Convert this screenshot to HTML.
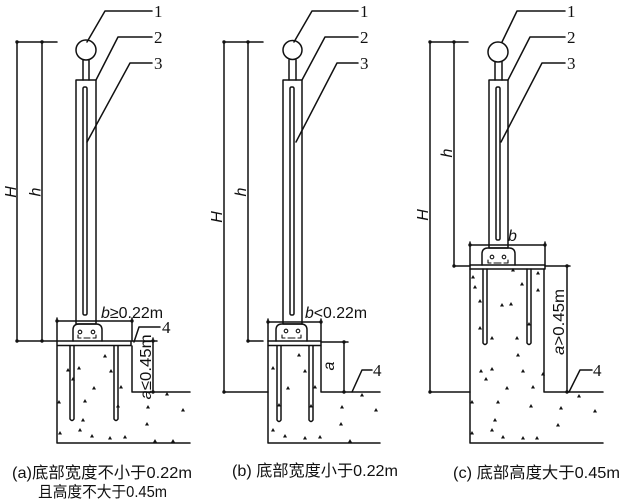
<!DOCTYPE html>
<html><head><meta charset="utf-8"><style>
html,body{margin:0;padding:0;background:#fff;}
svg{display:block;}
text{font-family:"Liberation Sans","Noto Sans CJK SC",sans-serif;fill:#111;}
.it{font-style:italic;}
.num{font-family:"Liberation Serif","Noto Serif CJK SC",serif;}
</style></head><body>
<svg width="624" height="501" viewBox="0 0 624 501" xmlns="http://www.w3.org/2000/svg">
<defs>
<g id="spk"><path d="M0,-2 L2,1.5 L-2,1.5 Z" fill="#111"/></g>
</defs>
<g fill="none" stroke="#111" stroke-width="1.5" stroke-linecap="round" stroke-linejoin="round">

<!-- ============ (a) ============ -->
<circle cx="86" cy="50" r="10"/>
<path d="M83,60 V80 M89,60 V80"/>
<rect x="76" y="80" width="20" height="244"/>
<rect x="83" y="87" width="4" height="228" rx="1.5"/>
<path d="M73,341 V330 Q73,324 79,324 H96 Q102,324 102,330 V341"/>
<circle cx="80" cy="332" r="1.8" stroke-width="1.1"/>
<circle cx="93" cy="332" r="1.8" stroke-width="1.1"/>
<path d="M78,335 V338 H81 M84,338 H90 M93,338 H96 V335" stroke-width="1.1"/>
<rect x="57" y="341" width="74" height="4.5"/>
<path d="M70,346 V419 Q72,422 74,419 V346 M114,346 V419 Q116,422 118,419 V346"/>
<path d="M57,346 V443 H190 M132,346 V392 H190"/>
<path d="M17,42 V341 M42,42 V341 M17,42 H57 M17,341 H57"/>
<path d="M57,318 V341 M132,318 V341 M57,321 H132"/>
<path d="M132,341 H157 M153,338 V392"/>
<path d="M87,42 L105,11 H152 M96,80 L118,37 H152 M87,142 L130,63 H152 M134,342 L139,327 H160"/>

<!-- ============ (b) ============ -->
<circle cx="292.5" cy="50" r="9.5"/>
<path d="M289,60 V80 M296,60 V80"/>
<rect x="283" y="80" width="19" height="244"/>
<rect x="290" y="87" width="4" height="228" rx="1.5"/>
<path d="M276,341 V330 Q276,324 282,324 H301 Q307,324 307,330 V341"/>
<circle cx="286" cy="331" r="1.8" stroke-width="1.1"/>
<circle cx="298" cy="331" r="1.8" stroke-width="1.1"/>
<path d="M282,335 V338 H285 M288,338 H295 M298,338 H301 V335" stroke-width="1.1"/>
<rect x="268" y="341" width="53" height="4.5"/>
<path d="M277,346 V420 Q279,423 281,420 V346 M309,346 V420 Q311,423 313,420 V346"/>
<path d="M268,346 V443 H380 M321,346 V392 H380"/>
<path d="M224,42 V392 M248,42 V341 M224,42 H263 M248,341 H263 M224,392 H268"/>
<path d="M268,319 V341 M321,319 V341 M268,322 H321"/>
<path d="M321,342 H348 M344,342 V392"/>
<path d="M294,42 L312,11 H358 M302,80 L325,37 H358 M296,142 L337,63 H358 M352,392 L362,370 H372"/>

<!-- ============ (c) ============ -->
<circle cx="498" cy="52" r="10"/>
<path d="M495,62 V80 M502,62 V80"/>
<rect x="489" y="80" width="19" height="168"/>
<rect x="496" y="87" width="4" height="153" rx="1.5"/>
<path d="M482,265 V254 Q482,248 488,248 H509 Q515,248 515,254 V265"/>
<circle cx="492" cy="257" r="1.8" stroke-width="1.1"/>
<circle cx="504" cy="257" r="1.8" stroke-width="1.1"/>
<path d="M488,260 V263 H491 M494,263 H501 M504,263 H508 V260" stroke-width="1.1"/>
<rect x="470" y="265" width="75" height="4"/>
<path d="M483,269 V343 Q485,346 487,343 V269 M527,269 V343 Q529,346 531,343 V269"/>
<path d="M470,269 V443 H603 M544,269 V392 H603"/>
<path d="M430,42 V392 M454,42 V266 M430,42 H468 M454,266 H470 M430,392 H470"/>
<path d="M470,242 V265 M545,242 V265 M470,245 H545"/>
<path d="M545,266 H570 M567,266 V392"/>
<path d="M502,42 L517,11 H565 M508,80 L530,37 H565 M501,142 L542,63 H565 M569,392 L580,370 H592"/>
</g>

<g fill="#111">
<circle cx="17" cy="42" r="1.7"/><circle cx="42" cy="42" r="1.7"/>
<circle cx="17" cy="341" r="1.7"/><circle cx="42" cy="341" r="1.7"/>
<circle cx="57" cy="321" r="1.7"/><circle cx="132" cy="321" r="1.7"/>
<circle cx="153" cy="341" r="1.7"/><circle cx="153" cy="392" r="1.7"/>
<circle cx="224" cy="42" r="1.7"/><circle cx="248" cy="42" r="1.7"/>
<circle cx="248" cy="341" r="1.7"/><circle cx="224" cy="392" r="1.7"/>
<circle cx="268" cy="322" r="1.7"/><circle cx="321" cy="322" r="1.7"/>
<circle cx="344" cy="342" r="1.7"/><circle cx="344" cy="392" r="1.7"/>
<circle cx="430" cy="42" r="1.7"/><circle cx="454" cy="42" r="1.7"/>
<circle cx="454" cy="266" r="1.7"/><circle cx="430" cy="392" r="1.7"/>
<circle cx="470" cy="245" r="1.7"/><circle cx="545" cy="245" r="1.7"/>
<circle cx="567" cy="266" r="1.7"/><circle cx="567" cy="392" r="1.7"/>
</g>

<g>
<use href="#spk" x="105" y="356"/><use href="#spk" x="79" y="368"/><use href="#spk" x="68" y="370"/>
<use href="#spk" x="111" y="371"/><use href="#spk" x="73" y="379"/><use href="#spk" x="94" y="388"/>
<use href="#spk" x="121" y="387"/><use href="#spk" x="59" y="402"/><use href="#spk" x="85" y="401"/>
<use href="#spk" x="118" y="406"/><use href="#spk" x="148" y="407"/><use href="#spk" x="183" y="410"/>
<use href="#spk" x="83" y="420"/><use href="#spk" x="147" y="424"/><use href="#spk" x="80" y="430"/>
<use href="#spk" x="60" y="433"/><use href="#spk" x="92" y="436"/><use href="#spk" x="110" y="438"/>
<use href="#spk" x="125" y="437"/><use href="#spk" x="167" y="394"/><use href="#spk" x="155" y="441"/>
<use href="#spk" x="173" y="441"/>

<use href="#spk" x="299" y="355"/><use href="#spk" x="273" y="368"/><use href="#spk" x="305" y="371"/>
<use href="#spk" x="288" y="388"/><use href="#spk" x="315" y="387"/><use href="#spk" x="311" y="406"/>
<use href="#spk" x="342" y="407"/><use href="#spk" x="376" y="410"/><use href="#spk" x="341" y="424"/>
<use href="#spk" x="273" y="430"/><use href="#spk" x="285" y="436"/><use href="#spk" x="305" y="438"/>
<use href="#spk" x="320" y="437"/><use href="#spk" x="362" y="395"/><use href="#spk" x="350" y="441"/>
<use href="#spk" x="279" y="405"/>

<use href="#spk" x="473" y="277"/><use href="#spk" x="475" y="287"/><use href="#spk" x="513" y="270"/>
<use href="#spk" x="522" y="284"/><use href="#spk" x="538" y="290"/><use href="#spk" x="538" y="273"/>
<use href="#spk" x="480" y="301"/><use href="#spk" x="502" y="305"/><use href="#spk" x="511" y="304"/>
<use href="#spk" x="480" y="328"/><use href="#spk" x="529" y="324"/><use href="#spk" x="492" y="338"/>
<use href="#spk" x="517" y="338"/><use href="#spk" x="518" y="355"/><use href="#spk" x="481" y="371"/>
<use href="#spk" x="492" y="369"/><use href="#spk" x="486" y="379"/><use href="#spk" x="523" y="371"/>
<use href="#spk" x="543" y="374"/><use href="#spk" x="507" y="388"/><use href="#spk" x="533" y="387"/>
<use href="#spk" x="579" y="396"/><use href="#spk" x="498" y="402"/><use href="#spk" x="531" y="406"/>
<use href="#spk" x="561" y="408"/><use href="#spk" x="595" y="411"/><use href="#spk" x="558" y="425"/>
<use href="#spk" x="495" y="420"/><use href="#spk" x="472" y="433"/><use href="#spk" x="492" y="430"/>
<use href="#spk" x="503" y="437"/><use href="#spk" x="523" y="438"/><use href="#spk" x="537" y="438"/>
<use href="#spk" x="472" y="402"/>
</g>

<g font-size="17" class="num">
<text class="num" x="154" y="17">1</text><text class="num" x="154" y="43">2</text><text class="num" x="154" y="69">3</text><text class="num" x="162" y="333">4</text>
<text class="num" x="360" y="17">1</text><text class="num" x="360" y="43">2</text><text class="num" x="360" y="69">3</text><text class="num" x="373" y="376">4</text>
<text class="num" x="567" y="17">1</text><text class="num" x="567" y="43">2</text><text class="num" x="567" y="69">3</text><text class="num" x="593" y="376">4</text>
</g>

<g font-size="16">
<text class="it" transform="translate(16,192) rotate(-90)" text-anchor="middle">H</text>
<text class="it" transform="translate(40.5,192) rotate(-90)" text-anchor="middle">h</text>
<text class="it" transform="translate(222,217) rotate(-90)" text-anchor="middle">H</text>
<text class="it" transform="translate(246,192) rotate(-90)" text-anchor="middle">h</text>
<text class="it" transform="translate(428,215) rotate(-90)" text-anchor="middle">H</text>
<text class="it" transform="translate(452,153) rotate(-90)" text-anchor="middle">h</text>

<text x="101" y="318" textLength="62" lengthAdjust="spacingAndGlyphs"><tspan class="it">b</tspan>≥0.22m</text>
<text x="305" y="318" textLength="62" lengthAdjust="spacingAndGlyphs"><tspan class="it">b</tspan>&lt;0.22m</text>
<text class="it" x="508" y="241">b</text>

<text transform="translate(151,367) rotate(-90)" text-anchor="middle" textLength="65" lengthAdjust="spacingAndGlyphs"><tspan class="it">a</tspan>≤0.45m</text>
<text class="it" transform="translate(334,366) rotate(-90)" text-anchor="middle">a</text>
<text transform="translate(564,322) rotate(-90)" text-anchor="middle" textLength="66" lengthAdjust="spacingAndGlyphs"><tspan class="it">a</tspan>&gt;0.45m</text>
</g>

<g font-size="16">
<text x="12" y="478" textLength="180" lengthAdjust="spacingAndGlyphs">(a)底部宽度不小于0.22m</text>
<text x="38" y="497" font-size="15.5" textLength="129" lengthAdjust="spacingAndGlyphs">且高度不大于0.45m</text>
<text x="232" y="476" textLength="166" lengthAdjust="spacingAndGlyphs">(b) 底部宽度小于0.22m</text>
<text x="453" y="478" textLength="167" lengthAdjust="spacingAndGlyphs">(c) 底部高度大于0.45m</text>
</g>
</svg>
</body></html>
